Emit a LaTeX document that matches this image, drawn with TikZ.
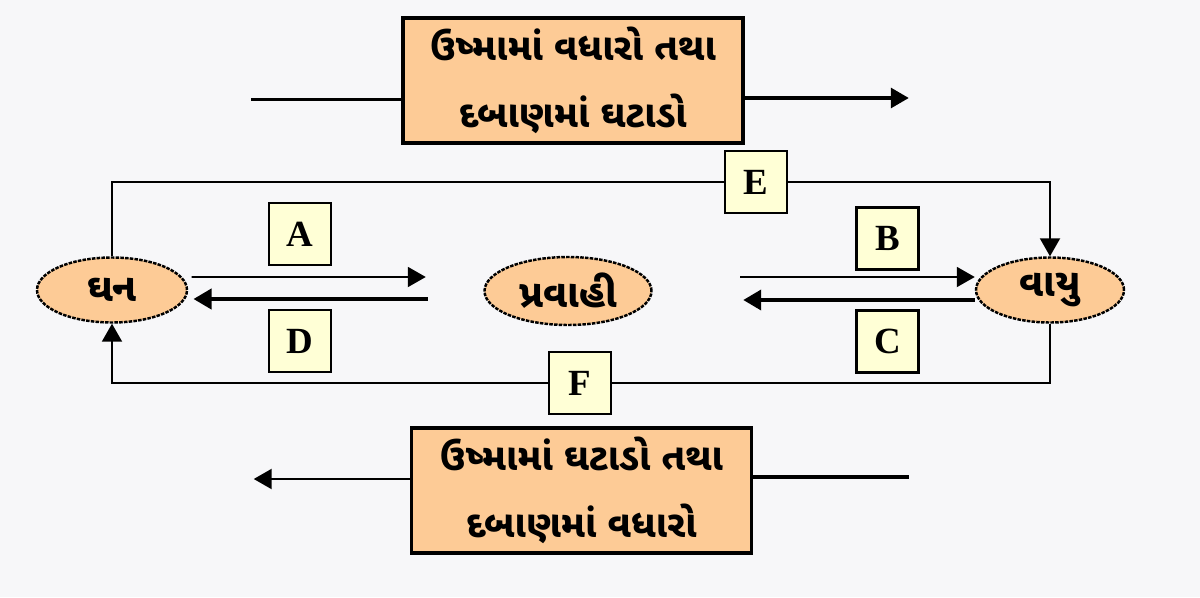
\documentclass[tikz,border=0pt]{standalone}
\usepackage{fontspec}
\newfontfamily\gujfont[Script=Gujarati]{Noto Sans Gujarati UI}
\newfontfamily\letterfont{Liberation Serif}
\usetikzlibrary{positioning,calc,arrows.meta,shapes.geometric}
\definecolor{peach}{RGB}{253,203,150}
\definecolor{paleyellow}{RGB}{255,255,214}
\definecolor{bgpaper}{RGB}{247,247,249}
\tikzset{
  change/.style={fill=peach,draw=black,line width=2pt,minimum width=6.8cm,minimum height=2.5cm,align=center,font=\gujfont\bfseries\fontsize{21.3}{38}\selectfont},
  phase/.style={ellipse,fill=peach,draw=black,line width=1.4pt,dash pattern=on 2pt off 0.7pt,minimum width=3cm,minimum height=1.3cm,inner sep=0pt,font=\gujfont\bfseries\fontsize{22}{26}\selectfont},
  tag/.style={fill=paleyellow,draw=black,line width=1.2pt,minimum size=1.24cm,inner sep=0pt,font=\letterfont\bfseries\fontsize{21}{21}\selectfont},
  flow/.style={line width=1.1pt,-{Triangle[length=3.6mm,width=4mm]}},
  backflow/.style={line width=2.2pt,-{Triangle[length=3.6mm,width=4mm]}},
  loopline/.style={line width=1.2pt},
}
\begin{document}
\begin{tikzpicture}
		\fill[bgpaper] (0,0) rectangle (24,11.94);
		\useasboundingbox (0,0) rectangle (24,11.94);
		% the three phases
		\node[phase] (ghan) at (2.24,6.14) {ઘન};
		\node[phase,minimum width=3.34cm,minimum height=1.36cm] (pravahi) at (11.36,6.12) {પ્રવાહી};
		\node[phase,minimum width=2.96cm] (vayu) at (21.0,6.14) {વાયુ};
		% conditions
		\node[change] (topbox) at (11.46,10.33) {ઉષ્મામાં વધારો તથા\\દબાણમાં ઘટાડો};
		\node[change] (botbox) at (11.63,2.13) {ઉષ્મામાં ઘટાડો તથા\\દબાણમાં વધારો};
		\draw[loopline,line width=1.4pt] ([yshift=-0.38cm]topbox.west) -- ++(-3.0,0);
		\draw[flow,line width=1.8pt] ([yshift=-0.35cm]topbox.east) -- ++(3.28,0);
		\draw[loopline,line width=2pt] ([yshift=0.27cm]botbox.east) -- ++(3.12,0);
		\draw[flow,line width=1.3pt] ([yshift=0.23cm]botbox.west) -- ++(-3.12,0);
		% labels
		\node[tag] (A) at (6.0,7.26) {A};
		\node[tag] (D) at (6.0,5.12) {D};
		\node[tag] (B) at (17.75,7.17) {B};
		\node[tag] (C) at (17.75,5.11) {C};
		\node[tag] (E) at (15.12,8.3) {E};
		\node[tag] (F) at (11.6,4.28) {F};
		% phase changes
		\draw[flow] ([xshift=2pt,yshift=0.26cm]ghan.east) -- ([xshift=-1.15cm,yshift=0.28cm]pravahi.west);
		\draw[backflow] ([xshift=-1.11cm,yshift=-0.16cm]pravahi.west) -- ([xshift=3pt,yshift=-0.18cm]ghan.east);
		\draw[flow] ([xshift=1.75cm,yshift=0.28cm]pravahi.east) -- ([yshift=0.26cm]vayu.west);
		\draw[backflow] ([yshift=-0.2cm]vayu.west) -- ([xshift=1.81cm,yshift=-0.18cm]pravahi.east);
		\draw[loopline] (ghan.north) |- (E.west);
		\draw[flow,line width=1.2pt] (E.east) -| (vayu.north);
		\draw[loopline] (vayu.south) |- (F.east);
		\draw[flow,line width=1.2pt] (F.west) -| (ghan.south);
\end{tikzpicture}
\end{document}
